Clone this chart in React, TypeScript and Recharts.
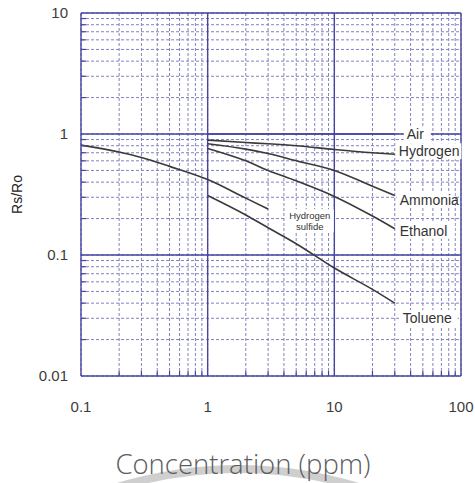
import React from 'react';
import {
  LineChart,
  Line,
  XAxis,
  YAxis,
  CartesianGrid,
  ReferenceLine,
  ReferenceDot,
  LabelList,
} from 'recharts';

// ---- ticks ----
const xTicks = [
  0.1, 0.2, 0.3, 0.4, 0.5, 0.6, 0.7, 0.8, 0.9,
  1, 2, 3, 4, 5, 6, 7, 8, 9,
  10, 20, 30, 40, 50, 60, 70, 80, 90, 100,
];
const yTicks = [
  0.01, 0.02, 0.03, 0.04, 0.05, 0.06, 0.07, 0.08, 0.09,
  0.1, 0.2, 0.3, 0.4, 0.5, 0.6, 0.7, 0.8, 0.9,
  1, 2, 3, 4, 5, 6, 7, 8, 9, 10,
];
const xMajor = [0.1, 1, 10, 100];
const yMajor = [0.01, 0.1, 1, 10];

// ---- series (concentration ppm, Rs/Ro) ----
const airData = [
  { c: 1, r: 1 },
  { c: 30, r: 1 },
];
const hydrogenData = [
  { c: 1, r: 0.89 },
  { c: 2, r: 0.85 },
  { c: 3, r: 0.83 },
  { c: 5, r: 0.8 },
  { c: 10, r: 0.745 },
  { c: 20, r: 0.7 },
  { c: 30, r: 0.68 },
];
const ammoniaData = [
  { c: 1, r: 0.83 },
  { c: 2, r: 0.75 },
  { c: 3, r: 0.69 },
  { c: 5, r: 0.6 },
  { c: 10, r: 0.5 },
  { c: 20, r: 0.37 },
  { c: 30, r: 0.31 },
];
const ethanolData = [
  { c: 1, r: 0.76 },
  { c: 2, r: 0.6 },
  { c: 3, r: 0.5 },
  { c: 5, r: 0.41 },
  { c: 10, r: 0.305 },
  { c: 20, r: 0.21 },
  { c: 30, r: 0.165 },
];
const tolueneData = [
  { c: 1, r: 0.31 },
  { c: 2, r: 0.214 },
  { c: 3, r: 0.168 },
  { c: 5, r: 0.124 },
  { c: 10, r: 0.078 },
  { c: 20, r: 0.052 },
  { c: 30, r: 0.04 },
];
const h2sData = [
  { c: 0.1, r: 0.81 },
  { c: 0.2, r: 0.71 },
  { c: 0.3, r: 0.64 },
  { c: 0.5, r: 0.54 },
  { c: 1, r: 0.42 },
  { c: 2, r: 0.295 },
  { c: 3, r: 0.24 },
];
const h2sLabelPos = { c: 6.4, r: 0.194 };

const seriesList = [
  { name: 'Air', data: airData, dx: 12, dy: 0 },
  { name: 'Hydrogen', data: hydrogenData, dx: 4, dy: -3 },
  { name: 'Ammonia', data: ammoniaData, dx: 5, dy: 4 },
  { name: 'Ethanol', data: ethanolData, dx: 5, dy: 2 },
  { name: 'Toluene', data: tolueneData, dx: 8, dy: 15 },
  { name: 'H2S', data: h2sData, dx: 0, dy: 0, noLabel: true },
];

const MAJOR = '#4646a0';
const MINOR = '#8282c0';
const CURVE = '#3a3a3a';
const TXT = '#3c3c3c';
const FONT = '"Liberation Sans", Arial, sans-serif';

const X_TM = 25;
const Y_TM = 13;

const XTick = (props: any) => {
  const { x, y, payload } = props;
  const v = payload.value;
  const major = xMajor.includes(v);
  if (major) {
    return (
      <text x={x} y={y} dy="0.71em" textAnchor="middle" fontSize={15} fontFamily={FONT} fill={TXT}>
        {String(v)}
      </text>
    );
  }
  return <line x1={x} x2={x} y1={y - X_TM} y2={y - X_TM - 5} stroke={MAJOR} strokeWidth={1.2} />;
};

const YTick = (props: any) => {
  const { x, y, payload } = props;
  const v = payload.value;
  const major = yMajor.includes(v);
  if (major) {
    return (
      <text x={x} y={y} dy="0.355em" textAnchor="end" fontSize={15} fontFamily={FONT} fill={TXT}>
        {String(v)}
      </text>
    );
  }
  return <line x1={x + Y_TM} x2={x + Y_TM + 5} y1={y} y2={y} stroke={MAJOR} strokeWidth={1.2} />;
};

const makeEndLabel = (name: string, len: number, dx: number, dy: number) => (props: any) => {
  const { x, y, index } = props;
  if (index !== len - 1) return null;
  const w = name.length * 7.7 + 4;
  const tx = x + dx;
  const ty = y + dy;
  return (
    <g>
      <rect x={tx - 3} y={ty - 8} width={w} height={16} fill="#fff" />
      <text x={tx} y={ty} dy="0.36em" fontSize={14} fontFamily={FONT} fill="#333">
        {name}
      </text>
    </g>
  );
};

const H2SLabel = (props: any) => {
  const { cx, cy } = props;
  return (
    <g>
      <rect x={cx - 24} y={cy - 11} width={48} height={23} fill="#fff" />
      <text x={cx} y={cy - 5} dy="0.36em" textAnchor="middle" fontSize={9.5} fontFamily={FONT} fill="#333">
        Hydrogen
      </text>
      <text x={cx} y={cy + 6} dy="0.36em" textAnchor="middle" fontSize={9.5} fontFamily={FONT} fill="#333">
        sulfide
      </text>
    </g>
  );
};

const YTitle = (props: any) => {
  const { viewBox } = props;
  const cx = viewBox.x + 6;
  const cy = viewBox.y + viewBox.height / 2;
  return (
    <text
      x={cx}
      y={cy}
      transform={`rotate(-90 ${cx} ${cy})`}
      textAnchor="middle"
      dy="0.36em"
      fontSize={14}
      fontFamily={FONT}
      fill="#222"
    >
      Rs/Ro
    </text>
  );
};

export default function App() {
  return (
    <div style={{ position: 'absolute', left: 0, top: 0, width: 475, height: 483, background: '#fff' }}>
      <svg width={475} height={483} style={{ position: 'absolute', left: 0, top: 0 }}>
        <path d="M 114 488 Q 238 450 362 488" fill="none" stroke="#cfcfcf" strokeWidth={8} />
        <text
          x={243}
          y={474}
          textAnchor="middle"
          fontSize={27.5}
          fontFamily='"Open Sans", sans-serif'
          fontWeight={300}
          fill="#5c5c5c"
        >
          Concentration (ppm)
        </text>
      </svg>
      <div style={{ position: 'absolute', left: 0, top: 0 }}>
        <LineChart width={475} height={483} margin={{ top: 13, right: 14, left: 11, bottom: 77 }}>
          <CartesianGrid stroke={MINOR} strokeDasharray="3 2" strokeWidth={1} />
          <XAxis
            dataKey="c"
            type="number"
            scale="log"
            domain={[0.1, 100]}
            ticks={xTicks}
            allowDataOverflow
            axisLine={false}
            tickLine={false}
            tickSize={0}
            tickMargin={X_TM}
            height={30}
            interval={0}
            tick={<XTick />}
          />
          <YAxis
            dataKey="r"
            type="number"
            scale="log"
            domain={[0.01, 10]}
            ticks={yTicks}
            allowDataOverflow
            axisLine={false}
            tickLine={false}
            tickSize={0}
            tickMargin={Y_TM}
            width={70}
            interval={0}
            tick={<YTick />}
            label={{ content: YTitle }}
          />
          {xMajor.map((v) => (
            <ReferenceLine key={'vx' + v} x={v} stroke={MAJOR} strokeWidth={1.4} />
          ))}
          {yMajor.map((v) => (
            <ReferenceLine key={'hy' + v} y={v} stroke={MAJOR} strokeWidth={1.4} />
          ))}
          {seriesList.map((s) => (
            <Line
              key={s.name}
              data={s.data}
              dataKey="r"
              type="monotone"
              stroke={s.name === 'Air' ? MAJOR : CURVE}
              strokeWidth={s.name === 'Air' ? 1.4 : 1.6}
              dot={false}
              isAnimationActive={false}
            >
              {!s.noLabel && (
                <LabelList dataKey="r" content={makeEndLabel(s.name, s.data.length, s.dx, s.dy)} />
              )}
            </Line>
          ))}
          <ReferenceDot x={h2sLabelPos.c} y={h2sLabelPos.r} r={0} shape={H2SLabel} />
        </LineChart>
      </div>
    </div>
  );
}
